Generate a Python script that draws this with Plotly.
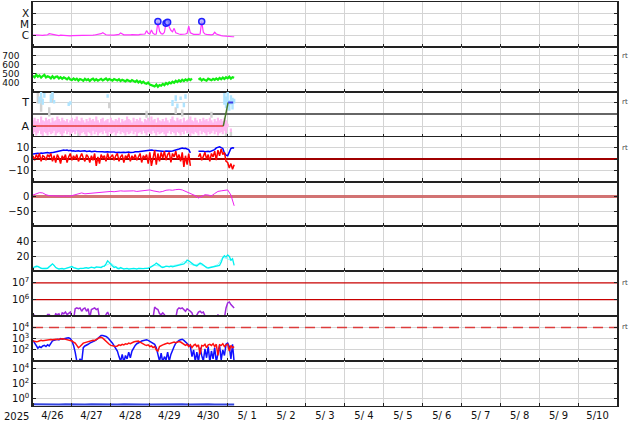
import math
import plotly.graph_objects as go
from plotly.subplots import make_subplots

# ---------------- axis labels ----------------
DAY_LABELS = ["4/26", "4/27", "4/28", "4/29", "4/30", "5/ 1", "5/ 2", "5/ 3",
              "5/ 4", "5/ 5", "5/ 6", "5/ 7", "5/ 8", "5/ 9", "5/10"]
YEAR_LABEL = "2025"

# ---------------- data (hours from 4/26 00:00) ----------------
# X-ray flux, hourly, in units of 1e-6 W/m2
xray_flux = [
    1.1, 1.05, 1.1, 1.15, 1.1, 1.0, 1.05, 1.1, 1.1, 1.2,
    1.5, 1.4, 1.2, 1.1, 1.1, 1.05, 1.0, 1.1, 1.05, 1.0,
    1.0, 1.05, 1.0, 0.95, 1.0, 1.0, 0.95, 1.0, 1.0, 1.05,
    1.0, 1.0, 1.05, 1.0, 1.1, 1.05, 1.0, 1.1, 1.15, 1.2,
    1.2, 1.3, 1.5, 1.8, 1.4, 1.2, 1.15, 1.1, 1.1, 1.15,
    1.1, 1.2, 1.2, 1.3, 1.7, 1.4, 1.2, 1.2, 1.15, 1.2,
    1.2, 1.25, 1.2, 1.3, 1.25, 1.2, 1.3, 1.4, 1.3, 1.4,
    2.8, 1.6, 1.4, 3.2, 1.6, 1.3, 1.4, 18, 2.5, 1.5,
    1.4, 2.0, 13, 16, 6.0, 3.0, 2.2, 4.5, 1.8, 1.5,
    1.4, 1.3, 1.3, 1.3, 1.4, 1.6, 7.0, 1.8, 1.4, 1.3,
    1.3, 1.25, 1.3, 1.4, 18, 2.0, 1.4, 1.3, 1.25, 1.2,
    1.2, 1.3, 2.0, 1.4, 1.2, 1.1, 1.0, 0.95, 0.9, 0.9,
    0.85, 0.85, 0.8, 0.8, 0.8,
]
flare_hours = [77, 82, 83, 104]
flare_flux = [18, 13, 16, 18]

# Solar wind speed, hourly (km/s)
sw_speed = [
    478, 462, 490, 468, 482, 458, 475, 488, 460, 472,
    465, 450, 474, 452, 466, 470, 448, 462, 445, 460,
    450, 438, 458, 436, 430, 448, 432, 446, 425, 442,
    435, 422, 444, 430, 440, 420, 438, 446, 426, 440,
    424, 438, 444, 426, 440, 448, 428, 442, 434, 424,
    442, 430, 426, 440, 420, 434, 424, 416, 432, 420,
    414, 430, 418, 410, 426, 404, 418, 398, 412, 394,
    390, 404, 380, 376, 366, 360, 380, 356, 376, 368,
    388, 374, 398, 384, 404, 394, 412, 400, 422, 408,
    428, 414, 434, 420, 438, 426, 444, 430, 448, None,
    None, None, 436, 448, 426, 442, 432, 424, 446, 432,
    428, 444, 432, 448, 434, 454, 440, 458, 442, 462,
    450, 468, 446, 462, 456,
]

# IMF sector: pink band (hourly low/high), light blue and gray patches, sector line
pink_hi = [
    -0.5, -0.3, -0.6, -0.4, -0.7, -0.2, -0.5, -0.6, -0.3, -0.5,
    -0.4, -0.7, -0.3, -0.6, -0.5, -0.2, -0.4, -0.6, -0.3, -0.5,
    -0.6, -0.4, -0.7, -0.5, -0.3, -0.6, -0.4, -0.2, -0.5, -0.6,
    -0.3, -0.5, -0.7, -0.4, -0.6, -0.3, -0.5, -0.4, -0.6, -0.2,
    -0.5, -0.7, -0.4, -0.3, -0.6, -0.5, -0.4, -0.7, -0.3, -0.5,
    -0.6, -0.4, -0.5, -0.3, -0.7, -0.4, -0.6, -0.5, -0.2, -0.4,
    -0.5, -0.7, -0.3, -0.6, -0.4, -0.5, -0.3, -0.6, -0.7, -0.4,
    -0.5, -0.3, -0.6, -0.2, -0.5, -0.4, -0.7, -0.3, -0.5, -0.6,
    -0.4, -0.6, -0.3, -0.5, -0.7, -0.4, -0.2, -0.5, -0.6, -0.3,
    -0.5, -0.4, -0.7, -0.3, -0.6, -0.5, -0.4, -0.2, -0.5, -0.6,
    -0.3, -0.5, -0.7, -0.4, -0.6, -0.3, -0.5, -0.4, -0.6, -0.3,
    -0.5, -0.7, -0.4, -0.6, -0.3, -0.5, -0.4, -0.6, -0.3, -0.5,
    -0.8, None, -1.2, None, None,
]
pink_lo = [
    -1.7, -1.5, -1.8, -1.6, -1.4, -1.7, -1.9, -1.5, -1.6, -1.8,
    -1.5, -1.7, -1.6, -1.4, -1.8, -1.6, -1.5, -1.7, -1.9, -1.6,
    -1.4, -1.7, -1.5, -1.8, -1.6, -1.5, -1.7, -1.4, -1.6, -1.8,
    -1.6, -1.5, -1.7, -1.9, -1.5, -1.6, -1.8, -1.4, -1.7, -1.5,
    -1.8, -1.6, -1.5, -1.7, -1.4, -1.6, -1.9, -1.5, -1.7, -1.6,
    -1.5, -1.8, -1.6, -1.4, -1.7, -1.5, -1.6, -1.8, -1.5, -1.7,
    -1.6, -1.4, -1.7, -1.5, -1.9, -1.6, -1.5, -1.7, -1.4, -1.6,
    -1.8, -1.5, -1.6, -1.7, -1.4, -1.6, -1.8, -1.5, -1.7, -1.6,
    -1.5, -1.7, -1.9, -1.6, -1.4, -1.7, -1.5, -1.6, -1.8, -1.5,
    -1.6, -1.8, -1.5, -1.7, -1.4, -1.6, -1.5, -1.9, -1.6, -1.7,
    -1.5, -1.6, -1.8, -1.4, -1.7, -1.5, -1.6, -1.8, -1.5, -1.7,
    -1.6, -1.4, -1.7, -1.5, -1.8, -1.6, -1.5, -1.7, -1.4, -1.6,
    -1.1, None, -1.5, None, None,
]
lblue_hours = [4, 5, 6, 7, 11, 12, 13, 22, 23, 46, 86, 88, 89, 91, 93, 94,
               118, 119, 120, 121, 122, 123, 124]
lblue_lo = [0.9, 1.2, 0.8, 1.4, 1.0, 1.3, 0.9, 0.7, 0.8, 1.4, 0.7, 1.1, 0.5, 1.2, 0.6, 1.3,
            0.8, 0.5, 0.9, 0.3, 0.8, 0.4, 0.9]
lblue_hi = [1.5, 1.9, 1.3, 1.8, 1.7, 1.9, 1.2, 1.0, 1.1, 1.7, 1.2, 1.6, 0.9, 1.5, 1.0, 1.7,
            1.8, 1.5, 1.9, 1.2, 1.6, 1.4, 1.3]
gray_hours = [3, 5, 10, 12, 28, 47, 70, 88, 92, 110, 119, 122]
gray_lo = [0.9, 0.2, -0.2, 1.0, -1.9, 0.5, -0.3, 0.0, -0.2, -0.3, -1.9, -1.9]
gray_hi = [1.8, 1.5, 0.6, 1.8, -1.2, 1.0, 0.3, 0.6, 0.4, 0.2, -1.2, -1.5]
sector_hours = [0, 117.3, 120.3, 123.4]
sector_val = [-1, -1, 1, 1]

# IMF Bt (blue) and Bz (red), hourly (nT)
imf_bt = [
    4.5, 5, 4.8, 5.3, 5, 5.5, 5.2, 5.6, 5.4, 5.8,
    5.5, 6, 5.8, 6.2, 6.5, 7, 7.5, 8, 7.8, 8.2,
    7.8, 8, 7.5, 7.8, 7.3, 7.5, 7, 7.3, 7.5, 7.1,
    7.2, 7, 7.4, 6.8, 7, 7.2, 6.6, 6.9, 7.1, 6.7,
    6.8, 6.5, 6.8, 6.6, 6.4, 6.7, 6.5, 6.3, 6.5, 6.2,
    6.4, 6, 6.3, 6.1, 5.9, 6.2, 6, 5.8, 6.1, 6.3,
    6, 6.4, 6.2, 6.5, 6.3, 6.6, 6.8, 7, 7.5, 7.8,
    8, 8.3, 8.5, 8.2, 8, 7.8, 7.5, 7.2, 7, 7.3,
    7, 6.8, 7.2, 7, 6.9, 7.1, 7.3, 7.6, 8, 8.5,
    9, 9.5, 9.8, 9.4, 9.6, 9, 8.5, 5.5, None, None,
    None, None, 7, 7.2, 6.8, 7, 6.5, 6.8, 7, 6.6,
    7, 7.5, 8.5, 10, 10.5, 11, 10.2, 9.5, 5.5, 3.5,
    3, 6, 9.5, 10, 9.8,
]
imf_bz = [
    3, -1, 4, 1, 5, -2, 3, 2, -1, 4,
    2, 5, -2, 3, -3, 4, 1, -4, 3, 0,
    4, -3, 2, 5, -1, 3, 0, 4, -2, 2,
    5, 1, -2, 4, 2, -3, 3, -1, 5, -6,
    2, -4, 4, 1, 3, -2, 5, 0, 2, 4,
    -1, 3, 5, -2, 2, 4, -3, 3, 1, 5,
    -2, 3, 0, 4, -1, 2, 5, -3, 3, 1,
    4, -4, 6, -6, 2, 8, -5, 5, -2, 6,
    1, 7, -1, 4, 6, -3, 5, 2, 7, 0,
    4, -2, 6, -7, 3, -5, 5, -6, None, None,
    None, None, 2, 5, -1, 3, 6, 0, 4, -2,
    5, 2, 7, -1, 8, 3, 9, 4, 6, -2,
    -3, -8, -4, -9, -5,
]

# Dst, every 2 hours (nT)
dst_index = [
    5, 8, 13, 12, 6, 3, 2, 3, 2, 1,
    2, 1, 3, 6, 10, 12, 9, 10, 13, 12,
    13, 14, 15, 16, 17, 16, 18, 19, 18, 19,
    18, 19, 17, 18, 20, 21, 22, 19, 16, 15,
    17, 21, 22, 21, 23, 24, 22, 17, 13, 8,
    3, -5, 0, 6, 5, 2, 10, 17, 19, 20,
    22, 5, -31,
]

# Cyan quantity: hourly main line and 3-hourly lighter line
cyan_main = [
    5, 6, 7, 6.5, 5, 4, 3.5, 3, 3.5, 4,
    6, 9, 10, 8, 5, 4, 3, 3.5, 4, 3,
    3.5, 4, 5, 6, 6.5, 5, 4, 3.5, 3, 4,
    3.5, 4, 4.5, 5, 4, 5, 5.5, 5, 4.5, 6,
    5.5, 6, 5, 6.5, 7, 10, 14, 12, 9, 7,
    5, 6, 4, 3.5, 5, 4, 3, 3.5, 4, 3,
    3.5, 3, 4, 3.5, 3, 4, 3.5, 3, 3.5, 4,
    3.5, 4, 5, 6, 7, 9, 11, 10, 8, 6,
    5, 6, 7, 6.5, 6, 7, 6, 6.5, 7, 8,
    7.5, 8, 9, 10, 12, 15, 14, 12, 10, 9,
    8, 7, 9, 11, 10, 8, 6, 5, 4.5, 5,
    5.5, 5, 6, 6.5, 7, 8, 12, 18, 21, 19,
    22, 20, 15, 17, 8,
]
cyan_light = [
    4, 6, 4.5, 5, 9, 4, 3, 4.5, 5.5, 4,
    3.5, 4.5, 5, 4.5, 6, 8, 11, 6, 4, 3.5,
    3, 3.5, 4, 3.5, 5, 8, 7, 6, 7, 7.5,
    9, 13, 11, 8, 10, 7, 5, 6.5, 9, 19,
    17, 14,
]

# Electron flux (log10), hourly
electron_log = [
    5.1, 5.05, 4.9, 4.8, 4.8, 4.8, 4.8, 4.8, 4.9, 5.1,
    5.1, 4.9, 4.8, 4.9, 5.15, 5.1, 5.15, 4.9, 5.2, 5.15,
    5.25, 5.1, 5.2, 5.25, 4.9, 4.8, 5.45, 5.5, 5.45, 5.5,
    5.3, 5.45, 5.5, 5.3, 5.45, 4.9, 5.4, 5.45, 5.5, 5.4,
    5.45, 4.9, 4.8, 4.8, 4.8, 5.1, 5.25, 4.9, 4.8, 4.8,
    4.8, 4.8, 4.8, 4.8, 4.8, 4.8, 4.8, 4.8, 4.8, 4.8,
    4.8, 4.8, 4.8, 4.8, 4.8, 4.8, 4.8, 4.8, 4.8, 4.8,
    4.8, 4.8, 4.8, 4.8, 4.9, 5.55, 5.45, 5.4, 5.15, 5.1,
    5.2, 5.1, 4.9, 4.8, 4.8, 4.8, 4.8, 4.8, 4.9, 5.4,
    5.5, 5.45, 5.5, 5.4, 5.3, 5.45, 5.4, 5.3, 5.2, 4.9,
    4.9, 5.1, 5.25, 5.3, 5.2, 5.25, 4.9, 4.8, 4.8, 4.8,
    4.8, 4.8, 4.8, 4.9, 5.1, 4.9, 4.8, 4.8, 4.9, 5.5,
    5.8, 5.86, 5.7, 5.6, 5.5,
]
ELECTRON_LEVELS_LOG = [6, 7]

# Particle flux (log10), hourly: blue and red channels
flux_blue = [
    2.85, 2.6, 2.3, 2.15, 2.3, 2.2, 2.35, 2.4, 2.3, 2.45,
    2.35, 2.6, 2.8, 2.85, 2.9, 2.95, 2.9, 3.0, 2.95, 3.0,
    3.05, 3.05, 3.08, 3.0, 2.8, 2.4, 1.8, 1.0, 0.8, 1.2,
    0.9, 2.2, 2.35, 2.4, 2.5, 2.6, 2.65, 2.75, 2.8, 2.9,
    3.05, 3.2, 3.28, 3.28, 3.25, 3.2, 3.1, 2.95, 2.8, 2.6,
    2.35, 2.1, 1.9, 1.4, 1.0, 1.6, 0.9, 1.5, 1.2, 1.8,
    1.3, 1.9, 2.2, 2.4, 2.55, 2.6, 2.7, 2.8, 2.85, 2.9,
    2.9, 2.85, 2.75, 2.65, 2.55, 2.5, 2.2, 1.5, 1.0, 1.7,
    0.9, 1.4, 1.1, 1.8, 1.0, 1.6, 2.0, 2.3, 2.6, 2.75,
    2.85, 2.9, 2.95, 2.85, 2.7, 2.55, 2.4, 2.3, 1.4, 2.0,
    1.0, 1.8, 0.9, 2.2, 1.5, 1.0, 2.1, 1.3, 2.3, 0.9,
    1.9, 1.2, 2.2, 0.9, 1.7, 2.4, 1.1, 2.0, 1.5, 2.5,
    2.6, 2.3, 1.2, 2.5, 0.9,
]
flux_red = [
    2.8, 2.75, 2.72, 2.75, 2.8, 2.85, 2.82, 2.85, 2.9, 2.88,
    2.9, 2.92, 2.9, 2.95, 2.95, 2.93, 2.97, 2.95, 3.0, 2.98,
    2.95, 2.93, 2.9, 2.85, 2.8, 2.7, 2.6, 2.4, 2.2, 2.3,
    2.5, 2.6, 2.65, 2.7, 2.75, 2.8, 2.82, 2.85, 2.84, 2.9,
    3.0, 3.1, 3.13, 3.05, 2.9, 2.75, 2.6, 2.5, 2.4, 2.35,
    2.35, 2.3, 2.35, 2.45, 2.4, 2.5, 2.45, 2.55, 2.5, 2.6,
    2.55, 2.65, 2.7, 2.75, 2.8, 2.78, 2.7, 2.6, 2.5, 2.45,
    2.4, 2.45, 2.3, 2.35, 2.2, 2.3, 2.0, 1.9, 2.3, 2.4,
    2.45, 2.5, 2.55, 2.6, 2.55, 2.6, 2.65, 2.7, 2.65, 2.7,
    2.75, 2.7, 2.6, 2.5, 2.4, 2.5, 2.3, 2.45, 2.2, 2.4,
    2.5, 2.3, 2.45, 1.6, 2.4, 2.35, 2.5, 2.2, 2.45, 2.5,
    2.4, 2.55, 2.3, 2.5, 1.5, 2.45, 2.4, 2.55, 2.3, 2.45,
    2.5, 1.9, 2.4, 2.2, 2.3,
]
FLUX_THRESHOLD_LOG = 4

# Bottom panel (log10), every 4 hours
bottom_log = [
    -0.78, -0.8, -0.76, -0.8, -0.79, -0.77, -0.81, -0.78, -0.8, -0.76,
    -0.79, -0.8, -0.77, -0.8, -0.78, -0.81, -0.77, -0.79, -0.8, -0.78,
    -0.76, -0.8, -0.79, -0.78, -0.81, -0.77, -0.8, -0.78, -0.79, -0.8,
    -0.78, -0.79,
]

X_END = 360


def hours(vals, step=1):
    return [i * step for i in range(len(vals))]


fig = make_subplots(rows=9, cols=1, shared_xaxes=True, vertical_spacing=0)

# Panel 1: X-ray
xr_log = [math.log10(v * 1e-6) for v in xray_flux]
fig.add_trace(go.Scatter(x=hours(xray_flux), y=xr_log, mode="lines",
                         line=dict(color="#ff33ff", width=1.2)), row=1, col=1)
fig.add_trace(go.Scatter(x=flare_hours, y=[math.log10(v * 1e-6) for v in flare_flux],
                         mode="markers",
                         marker=dict(symbol="circle", size=6, color="rgba(160,160,255,0.7)",
                                     line=dict(color="#2020ff", width=1.5))), row=1, col=1)

# Panel 2: solar wind speed
fig.add_trace(go.Scatter(x=hours(sw_speed), y=sw_speed, mode="lines",
                         line=dict(color="#11ee11", width=2.2)), row=2, col=1)

# Panel 3: sector
def band(hrs, lo, hi, color, width):
    xs, base, h = [], [], []
    for t, a, b in zip(hrs, lo, hi):
        if a is None or b is None:
            continue
        xs.append(t)
        base.append(a)
        h.append(b - a)
    return go.Bar(x=xs, y=h, base=base, width=width, marker=dict(color=color, line=dict(width=0)))

fig.add_trace(band(gray_hours, gray_lo, gray_hi, "rgb(210,210,210)", 1.5), row=3, col=1)
fig.add_trace(band(hours(pink_hi), pink_lo, pink_hi, "rgb(255,185,240)", 1.35), row=3, col=1)
fig.add_trace(band(lblue_hours, lblue_lo, lblue_hi, "rgb(175,228,255)", 1.5), row=3, col=1)
fig.add_trace(go.Scatter(x=sector_hours[0:2], y=sector_val[0:2], mode="lines",
                         line=dict(color="rgb(230,60,60)", width=1.5)), row=3, col=1)
fig.add_trace(go.Scatter(x=sector_hours[1:3], y=sector_val[1:3], mode="lines",
                         line=dict(color="rgb(70,120,40)", width=1.5)), row=3, col=1)
fig.add_trace(go.Scatter(x=sector_hours[2:4], y=sector_val[2:4], mode="lines",
                         line=dict(color="rgb(60,60,230)", width=2)), row=3, col=1)

# Panel 4: IMF
fig.add_trace(go.Scatter(x=hours(imf_bt), y=imf_bt, mode="lines",
                         line=dict(color="#0000ff", width=1.5)), row=4, col=1)
fig.add_trace(go.Scatter(x=hours(imf_bz), y=imf_bz, mode="lines",
                         line=dict(color="#ff0000", width=1.5)), row=4, col=1)

# Panel 5: Dst
fig.add_trace(go.Scatter(x=hours(dst_index, 2), y=dst_index, mode="lines",
                         line=dict(color="#ee22ee", width=1)), row=5, col=1)

# Panel 6: cyan
fig.add_trace(go.Scatter(x=hours(cyan_light, 3), y=cyan_light, mode="lines",
                         line=dict(color="#88ffff", width=1)), row=6, col=1)
fig.add_trace(go.Scatter(x=hours(cyan_main), y=cyan_main, mode="lines",
                         line=dict(color="#00f0f0", width=1.3)), row=6, col=1)

# Panel 7: electrons with reference levels
for lvl in ELECTRON_LEVELS_LOG:
    fig.add_trace(go.Scatter(x=[0, X_END], y=[lvl, lvl], mode="lines",
                             line=dict(color="rgb(200,0,0)", width=1.3)), row=7, col=1)
fig.add_trace(go.Scatter(x=hours(electron_log), y=electron_log, mode="lines",
                         line=dict(color="rgb(160,40,220)", width=1.5)), row=7, col=1)

# Panel 8: particle flux
fig.add_trace(go.Scatter(x=[0, X_END], y=[FLUX_THRESHOLD_LOG, FLUX_THRESHOLD_LOG], mode="lines",
                         line=dict(color="rgb(220,60,60)", width=1.5, dash="10px,6px")),
              row=8, col=1)
fig.add_trace(go.Scatter(x=hours(flux_blue), y=flux_blue, mode="lines",
                         line=dict(color="#1010ff", width=1.5)), row=8, col=1)
fig.add_trace(go.Scatter(x=hours(flux_red), y=flux_red, mode="lines",
                         line=dict(color="#ff1010", width=1.5)), row=8, col=1)

# Panel 9
fig.add_trace(go.Scatter(x=hours(bottom_log, 4), y=bottom_log, mode="lines",
                         line=dict(color="#3344dd", width=2)), row=9, col=1)

# ---------------- axes ----------------
GRID = "#d4d4d4"
FRAME = "#222222"
noon = [12 + 24 * i for i in range(len(DAY_LABELS))]
fig.update_xaxes(range=[0, X_END], showgrid=False, tickvals=noon, ticktext=DAY_LABELS,
                 ticks="", showline=True, linewidth=1.25, linecolor=FRAME, mirror=True,
                 minor=dict(tick0=0, dtick=24, showgrid=True, gridcolor=GRID, gridwidth=1,
                            ticks="inside", ticklen=3, tickcolor=FRAME),
                 tickfont=dict(size=10, color="#111"), zeroline=False, fixedrange=True)
fig.update_xaxes(showticklabels=True, row=9, col=1)

yconf = [
    dict(range=[-7, -3], tickvals=[-6, -5, -4], ticktext=["C", "M", "X"],
         tickfont=dict(size=10.5, color="#111")),
    dict(range=[300, 800], tickvals=[400, 500, 600, 700], ticktext=["400", "500", "600", "700"],
         ticklabelstandoff=10, tickfont=dict(size=9, color="#111")),
    dict(range=[-1.9, 1.9], tickvals=[-1, 1], ticktext=["A", "T"],
         tickfont=dict(size=11, color="#111"),
         zeroline=True, zerolinecolor="#666666", zerolinewidth=1.5),
    dict(range=[-20, 20], tickvals=[-10, 0, 10], ticktext=["\u221210", "0", "10"],
         zeroline=True, zerolinecolor="rgb(160,0,0)", zerolinewidth=1.5),
    dict(range=[-100, 50], tickvals=[-50, 0], ticktext=["\u221250", "0"],
         zeroline=True, zerolinecolor="rgba(205,100,100,0.9)", zerolinewidth=3),
    dict(range=[0, 60], tickvals=[20, 40], ticktext=["20", "40"]),
    dict(range=[5, 7.7], tickvals=[6, 7], ticktext=["10<sup>6</sup>", "10<sup>7</sup>"],
         showgrid=False),
    dict(range=[1, 5], tickvals=[2, 3, 4],
         ticktext=["10<sup>2</sup>", "10<sup>3</sup>", "10<sup>4</sup>"]),
    dict(range=[-1, 5], tickvals=[0, 2, 4],
         ticktext=["10<sup>0</sup>", "10<sup>2</sup>", "10<sup>4</sup>"]),
]
for i, c in enumerate(yconf, start=1):
    base = dict(showline=True, linewidth=1.5, linecolor=FRAME, mirror="ticks",
                ticks="inside", ticklen=3, tickcolor=FRAME, showgrid=True,
                gridcolor=GRID, gridwidth=1, zeroline=False, fixedrange=True,
                tickfont=dict(size=10, color="#111"))
    base.update(c)
    fig.update_yaxes(row=i, col=1, **base)

# "rt" marks on the right
rt_marks = [(2, 700), (3, 1), (4, 10), (7, 7), (8, 4)]
for row, yv in rt_marks:
    fig.add_annotation(xref="paper", x=1, xanchor="left", xshift=3,
                       yref="y%d" % row, y=yv, yanchor="middle", text="rt",
                       showarrow=False, font=dict(size=7, color="#444"))

fig.add_annotation(xref="paper", x=0, xanchor="right", xshift=-2,
                   yref="paper", y=0, yanchor="middle", yshift=-10,
                   text=YEAR_LABEL, showarrow=False, font=dict(size=10, color="#111"))

fig.update_layout(width=634, height=424, margin=dict(l=33, r=17, t=2, b=18),
                  paper_bgcolor="white", plot_bgcolor="white", showlegend=False,
                  barmode="overlay", font=dict(family="DejaVu Sans", size=10, color="#111"))

fig.write_html("out.html", config={"displayModeBar": False},
               post_script="document.body.style.margin='0';document.body.style.overflow='hidden';")
